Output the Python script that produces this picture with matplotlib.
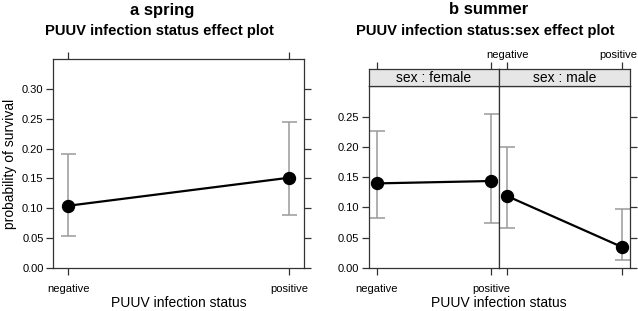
import matplotlib
matplotlib.use("Agg")
import matplotlib.pyplot as plt
import matplotlib.transforms as mtrans

plt.rcParams['font.family'] = ['Liberation Sans', 'DejaVu Sans']

# ---- data ----
status = ["negative", "positive"]
spring_fit = [0.104, 0.151]
spring_lo = [0.054, 0.0885]
spring_hi = [0.191, 0.245]

female_fit = [0.140, 0.144]
female_lo = [0.082, 0.075]
female_hi = [0.227, 0.256]

male_fit = [0.119, 0.034]
male_lo = [0.066, 0.012]
male_hi = [0.200, 0.097]

spring_yticks = [0.00, 0.05, 0.10, 0.15, 0.20, 0.25, 0.30]
summer_yticks = [0.00, 0.05, 0.10, 0.15, 0.20, 0.25]

W, H = 638, 311
fig = plt.figure(figsize=(W / 100, H / 100), dpi=100)


def ax_px(x0, x1, ytop, ybot):
    return fig.add_axes([x0 / W, 1 - ybot / H, (x1 - x0) / W, (ybot - ytop) / H])


def fx(p):
    return p / W


def fy(p):
    return 1 - p / H


FRAME = '#333333'
ERR = '#9a9a9a'
TICKFS = 8


def style(ax, ylim, yticks):
    for s in ax.spines.values():
        s.set_color(FRAME)
        s.set_linewidth(0.9)
    ax.set_xlim(0.932, 2.068)
    ax.set_ylim(*ylim)
    ax.set_xticks([1, 2])
    ax.set_xticklabels(status)
    ax.set_yticks(yticks)
    ax.set_yticklabels([f"{v:.2f}" for v in yticks])
    ax.tick_params(direction='out', length=5, width=0.9, color=FRAME,
                   labelsize=TICKFS, top=True, right=True, pad=2)
    ax.tick_params(axis='x', pad=7)


def draw(ax, fit, lo, hi):
    xs = [1, 2]
    for x, f, l, h in zip(xs, fit, lo, hi):
        ax.errorbar([x], [f], yerr=[[f - l], [h - f]], fmt='none', ecolor=ERR,
                    elinewidth=1.1, capsize=5.4, capthick=1.1, zorder=1)
    ax.plot(xs, fit, color='black', lw=1.6, marker='o', ms=8.6,
            mfc='black', mec='black', zorder=3)


# ---- left panel: spring ----
axL = ax_px(53.3, 304, 59.3, 267.7)
style(axL, (0, 0.3498), spring_yticks)
draw(axL, spring_fit, spring_lo, spring_hi)
axL.tick_params(labeltop=False, labelright=False)
axL.set_ylabel("probability of survival", fontsize=10, labelpad=4)

# ---- right panels: summer ----
ylimR = (0, 0.3018)
axF = ax_px(368.7, 499.3, 86, 267.7)
axM = ax_px(499.3, 630.3, 86, 267.7)
style(axF, ylimR, summer_yticks)
style(axM, ylimR, summer_yticks)
draw(axF, female_fit, female_lo, female_hi)
draw(axM, male_fit, male_lo, male_hi)
axF.tick_params(top=False, labeltop=False, right=False, labelright=False)
axM.tick_params(top=False, labeltop=False, left=False, labelleft=False,
                labelright=False, labelbottom=False)

# strips
for (x0, x1, lab) in [(368.7, 499.3, "sex : female"), (499.3, 630.3, "sex : male")]:
    sx = ax_px(x0, x1, 69.3, 86)
    sx.set_facecolor('#e6e6e6')
    for s in sx.spines.values():
        s.set_color(FRAME)
        s.set_linewidth(0.9)
    sx.set_xlim(0.932, 2.068)
    sx.set_yticks([])
    sx.set_xticks([1, 2])
    sx.tick_params(axis='x', direction='out', length=5, width=0.9, color=FRAME,
                   bottom=False, labelbottom=False, top=True,
                   labeltop=(lab == "sex : male"), labelsize=TICKFS, pad=2)
    if lab == "sex : male":
        sx.set_xticklabels(status)
        # keep the last top label inside the figure
        lbl = sx.get_xticklabels()[-1]
        lbl.set_transform(lbl.get_transform() +
                          mtrans.ScaledTranslation(-4 / 100, 0, fig.dpi_scale_trans))
    sx.text(0.5, 0.45, lab, transform=sx.transAxes, ha='center', va='center',
            fontsize=10)

# x labels
fig.text(fx(178.7), fy(303), "PUUV infection status", ha='center', va='center',
         fontsize=10)
fig.text(fx(499), fy(303), "PUUV infection status", ha='center', va='center',
         fontsize=10)

# titles
fig.text(fx(162), fy(10), "a spring", ha='center', va='center',
         fontsize=12, fontweight='bold')
fig.text(fx(159), fy(31), "PUUV infection status effect plot", ha='center',
         va='center', fontsize=10.6, fontweight='bold')
fig.text(fx(489), fy(10), "b summer", ha='center', va='center',
         fontsize=12, fontweight='bold')
fig.text(fx(485), fy(31), "PUUV infection status:sex effect plot",
         ha='center', va='center', fontsize=10.6, fontweight='bold')

fig.savefig("out.png", dpi=100)
